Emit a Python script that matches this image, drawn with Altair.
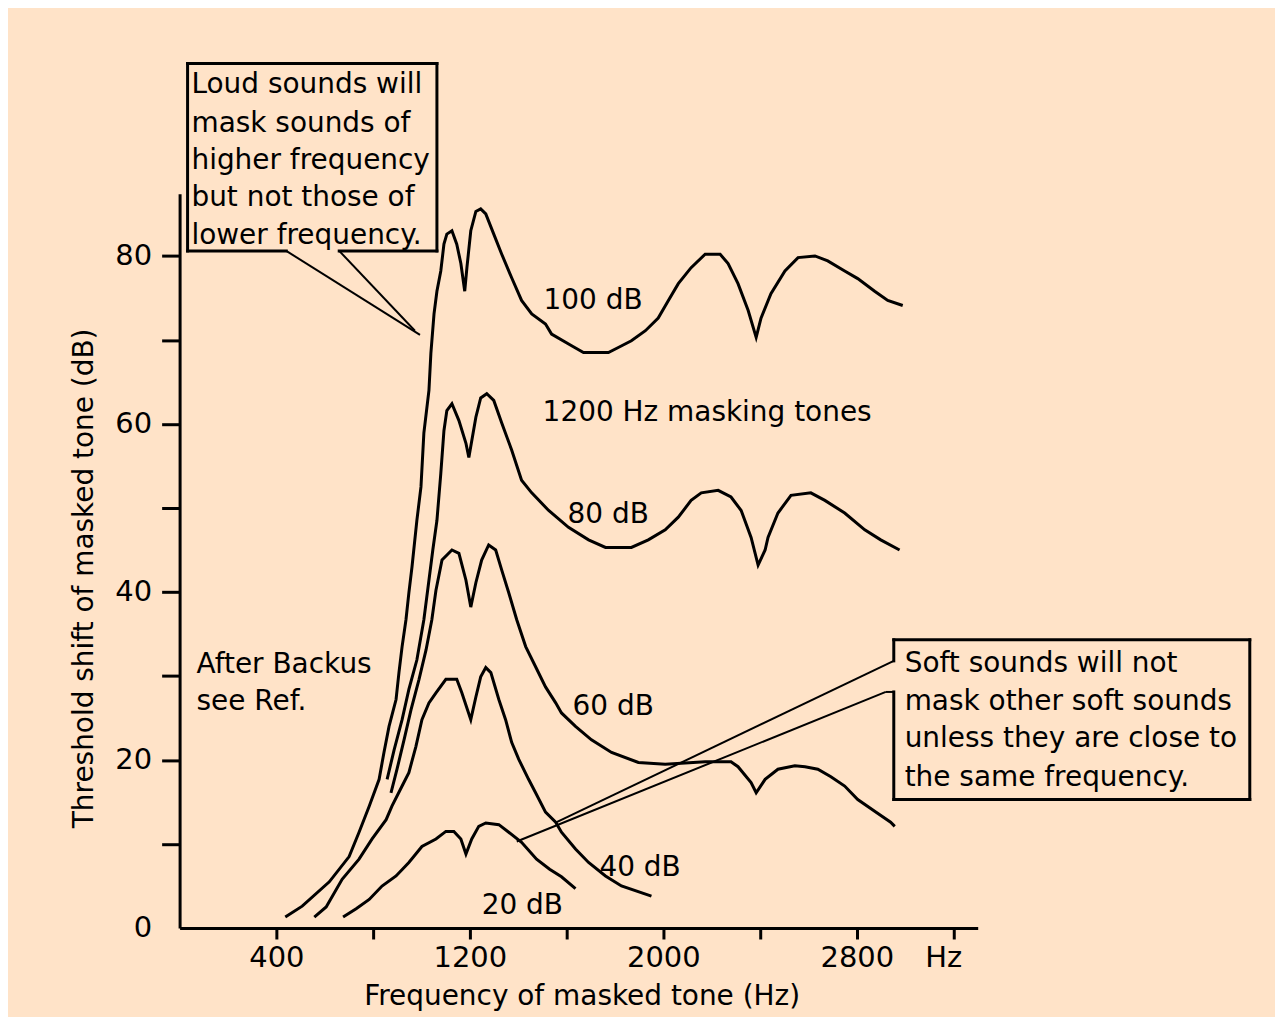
import altair as alt
import pandas as pd

BG = "#FFE3C8"
FONT = "DejaVu Sans"

# ---------------- data (Hz, dB) ----------------
levels = ["100 dB", "80 dB", "60 dB", "40 dB", "20 dB"]

freq_100 = [437, 507, 619, 701, 742, 784, 825, 845, 866, 895, 907, 920, 936, 948, 961, 981, 998, 1010, 1031, 1039,
            1052, 1064, 1080, 1093, 1105, 1126, 1146, 1163, 1179, 1188, 1204, 1225, 1245, 1266, 1299, 1332, 1373, 1414,
            1456, 1513, 1538, 1621, 1670, 1773, 1814, 1868, 1926, 1979, 2021, 2062, 2115, 2173, 2235, 2268, 2309, 2351,
            2384, 2404, 2445, 2503, 2557, 2627, 2680, 2750, 2804, 2874, 2928, 2990]
db_100 = [1.3, 2.6, 5.5, 8.5, 11.4, 14.5, 17.7, 20.9, 24.0, 27.2, 30.4, 33.5, 36.7, 39.9, 43.0, 48.5, 52.5, 58.9, 64.0,
          68.4, 73.1, 75.8, 78.2, 81.4, 82.6, 83.0, 81.4, 79.1, 75.8, 78.6, 83.0, 85.3, 85.6, 85.0, 82.6, 80.2, 77.4,
          74.7, 73.1, 71.9, 70.7, 69.3, 68.5, 68.5, 69.1, 69.9, 71.1, 72.6, 74.7, 76.7, 78.6, 80.2, 80.2, 79.1, 76.7,
          73.5, 70.3, 72.6, 75.5, 78.2, 79.8, 80.0, 79.4, 78.2, 77.3, 75.8, 74.7, 74.1]

freq_80 = [858, 887, 920, 948, 981, 1010, 1031, 1047, 1064, 1080, 1093, 1105, 1126, 1155, 1184, 1196, 1225, 1245, 1270,
           1299, 1332, 1373, 1414, 1456, 1526, 1608, 1691, 1761, 1868, 1938, 2008, 2062, 2115, 2157, 2227, 2280, 2322,
           2363, 2392, 2421, 2433, 2474, 2528, 2610, 2668, 2750, 2833, 2899, 2977]
db_80 = [17.7, 21.2, 24.8, 28.4, 31.9, 36.7, 41.4, 45.0, 48.5, 54.1, 59.2, 61.6, 62.4, 60.4, 57.7, 56.0, 60.8, 63.1, 63.6,
         62.8, 60.1, 56.9, 53.3, 51.8, 49.7, 47.7, 46.2, 45.3, 45.3, 46.2, 47.4, 48.9, 50.9, 51.8, 52.1, 51.3, 49.7,
         46.5, 43.2, 45.0, 46.5, 49.4, 51.5, 51.8, 50.9, 49.4, 47.4, 46.2, 45.0]

freq_60 = [874, 899, 928, 957, 990, 1019, 1043, 1060, 1085, 1126, 1155, 1184, 1204, 1225, 1249, 1278, 1307, 1332, 1361,
           1394, 1431, 1472, 1513, 1555, 1579, 1637, 1703, 1786, 1897, 2008, 2173, 2280, 2309, 2363, 2384, 2421, 2474,
           2544, 2586, 2639, 2693, 2750, 2804, 2874, 2940, 2957]
db_60 = [16.1, 18.9, 22.4, 26.0, 29.6, 33.1, 36.7, 40.2, 43.8, 45.0, 44.6, 41.4, 38.2, 41.1, 43.8, 45.6, 45.0, 42.6, 39.9,
         36.7, 33.5, 31.1, 28.7, 26.8, 25.6, 24.0, 22.4, 20.9, 19.7, 19.5, 19.8, 19.8, 19.2, 17.3, 16.1, 17.7, 18.9,
         19.3, 19.2, 18.9, 18.0, 16.9, 15.3, 13.9, 12.6, 12.1]

freq_40 = [557, 606, 672, 742, 796, 854, 878, 920, 948, 977, 1002, 1031, 1060, 1101, 1146, 1167, 1204, 1225, 1245, 1266,
           1287, 1320, 1348, 1373, 1402, 1443, 1472, 1513, 1555, 1579, 1637, 1691, 1761, 1827, 1951]
db_40 = [1.3, 2.5, 5.8, 8.2, 10.6, 12.9, 14.5, 16.9, 18.5, 21.6, 24.8, 26.8, 28.0, 29.6, 29.6, 28.0, 24.8, 27.5, 29.9,
         31.0, 30.4, 27.2, 24.8, 22.1, 20.1, 17.7, 16.1, 13.8, 12.6, 11.4, 9.4, 7.8, 6.2, 5.0, 3.8]

freq_20 = [676, 730, 784, 837, 895, 948, 1002, 1060, 1101, 1134, 1163, 1184, 1208, 1237, 1266, 1320, 1361, 1414, 1476,
           1530, 1579, 1637]
db_20 = [1.3, 2.3, 3.4, 5.0, 6.2, 7.8, 9.7, 10.6, 11.5, 11.5, 10.6, 8.8, 10.6, 12.1, 12.5, 12.3, 11.4, 10.2, 8.2, 7.0,
         6.1, 4.7]

series_freq = [freq_100, freq_80, freq_60, freq_40, freq_20]
series_db = [db_100, db_80, db_60, db_40, db_20]

# axis ticks and labels
x_tick_values = [400, 800, 1200, 1600, 2000, 2400, 2800, 3200]
x_labelled = [400, 1200, 2000, 2800]
y_tick_values = [0, 10, 20, 30, 40, 50, 60, 70, 80]
y_labelled = [0, 20, 40, 60, 80]

# annotation text (position in data units: Hz, dB at text baseline)
label_text = ["100 dB", "1200 Hz masking tones", "80 dB", "60 dB", "40 dB", "20 dB", "After Backus", "see Ref.",
              "Loud sounds will", "mask sounds of", "higher frequency", "but not those of", "lower frequency.",
              "Soft sounds will not", "mask other soft sounds", "unless they are close to", "the same frequency."]
label_x = [1505, 1501, 1604, 1625, 1736, 1249, 70, 70,
           49, 49, 49, 49, 49,
           2998, 2998, 2998, 2998]
label_y = [73.7, 60.4, 48.2, 25.4, 6.2, 1.7, 30.4, 26.0,
           99.4, 94.8, 90.3, 85.9, 81.4,
           30.5, 26.0, 21.5, 16.9]

# call-out boxes and pointers (segments in Hz / dB)
box_x1 = [33, 660, 33, 33, 1064, 2953, 4425, 2953, 2953, 2953]
box_y1 = [80.6, 80.6, 80.6, 102.9, 102.9, 34.3, 34.3, 15.3, 34.3, 28.1]
box_x2 = [441, 1064, 33, 1064, 1064, 4425, 4425, 4425, 2953, 2953]
box_y2 = [80.6, 80.6, 102.9, 102.9, 80.6, 34.3, 15.3, 15.3, 31.8, 15.3]

ptr_x1 = [441, 660, 2953, 2920, 2920]
ptr_y1 = [80.6, 80.6, 31.8, 28.1, 28.1]
ptr_x2 = [994, 973, 1559, 1394, 2953]
ptr_y2 = [70.6, 71.1, 12.6, 10.3, 28.1]

# ---------------- tables ----------------
rows = []
for lev, fs, ds in zip(levels, series_freq, series_db):
    for i, (f, d) in enumerate(zip(fs, ds)):
        rows.append({"level": lev, "i": i, "freq": f, "db": d})
curves = pd.DataFrame(rows)
labels = pd.DataFrame({"text": label_text, "freq": label_x, "db": label_y})
boxes = pd.DataFrame({"x1": box_x1, "y1": box_y1, "x2": box_x2, "y2": box_y2})
pointers = pd.DataFrame({"x1": ptr_x1, "y1": ptr_y1, "x2": ptr_x2, "y2": ptr_y2})
hz_label = pd.DataFrame({"text": ["Hz"], "freq": [3159], "db": [-4.6]})

xscale = alt.Scale(domain=[0, 3300], nice=False, zero=False)
yscale = alt.Scale(domain=[0, 87.4], nice=False, zero=False)

x_label_test = " || ".join(f"datum.value === {v}" for v in x_labelled)
y_label_test = " || ".join(f"datum.value === {v}" for v in y_labelled)

x_axis = alt.Axis(
    values=x_tick_values, format="d",
    labelExpr=f"({x_label_test}) ? datum.label : ''",
    tickSize=11, tickWidth=3, domainWidth=3, labelPadding=5,
    labelFontSize=29, labelFont=FONT, labelColor="black",
    title="Frequency of masked tone (Hz)", titleFont=FONT, titleFontSize=28, titleFontWeight="normal",
    titleColor="black", titleX=403, titleY=77, titleAlign="center", titleBaseline="alphabetic",
    grid=False, labelFlush=False, domainColor="black", tickColor="black",
)
y_axis = alt.Axis(
    values=y_tick_values, format="d",
    labelExpr=f"({y_label_test}) ? datum.label : ''",
    tickSize=18, tickWidth=3, domainWidth=3, labelPadding=10,
    tickOpacity={"condition": {"test": "datum.value === 0", "value": 0}, "value": 1},
    labelFontSize=29, labelFont=FONT, labelColor="black",
    title="Threshold shift of masked tone (dB)", titleFont=FONT, titleFontSize=28, titleFontWeight="normal",
    titleColor="black", titleAngle=270, titleX=-87, titleY=385, titleAlign="center", titleBaseline="alphabetic",
    grid=False, domainColor="black", tickColor="black",
)

X = alt.X("freq:Q", scale=xscale, axis=x_axis)
Y = alt.Y("db:Q", scale=yscale, axis=y_axis)

curve_layer = alt.Chart(curves).mark_line(color="black", strokeWidth=3, strokeJoin="miter").encode(
    x=X, y=Y, detail="level:N", order="i:Q"
)

box_layer = alt.Chart(boxes).mark_rule(color="black", strokeWidth=3, strokeCap="square").encode(
    x=alt.X("x1:Q", scale=xscale, axis=x_axis), y=alt.Y("y1:Q", scale=yscale, axis=y_axis),
    x2="x2:Q", y2="y2:Q"
)

ptr_layer = alt.Chart(pointers).mark_rule(color="black", strokeWidth=2).encode(
    x=alt.X("x1:Q", scale=xscale, axis=x_axis), y=alt.Y("y1:Q", scale=yscale, axis=y_axis),
    x2="x2:Q", y2="y2:Q"
)

text_layer = alt.Chart(labels).mark_text(
    align="left", baseline="alphabetic", font=FONT, fontSize=28, color="black"
).encode(x=X, y=Y, text="text:N")

hz_layer = alt.Chart(hz_label).mark_text(
    align="center", baseline="alphabetic", font=FONT, fontSize=29, color="black"
).encode(x=X, y=Y, text="text:N")

chart = alt.layer(curve_layer, box_layer, ptr_layer, text_layer, hz_layer).properties(
    width=800, height=736,
    background=BG,
    padding={"left": 172, "top": 185, "right": 298, "bottom": 88},
    autosize=alt.AutoSizeParams(type="none"),
).configure_view(stroke=None)

chart.save("out.html", embed_options={"renderer": "svg", "actions": False})
